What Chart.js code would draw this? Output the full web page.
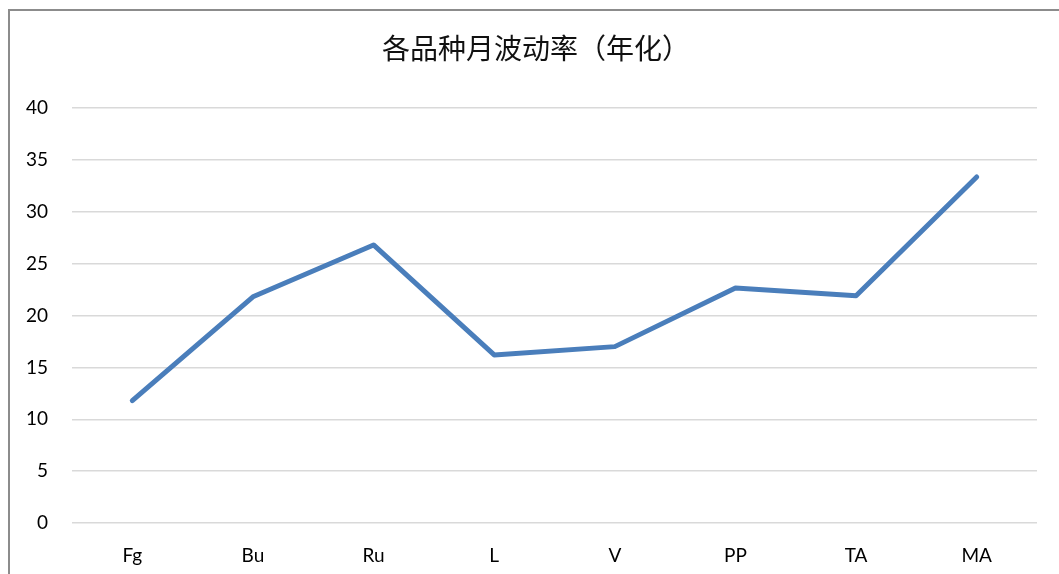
<!DOCTYPE html>
<html lang="zh">
<head>
    <meta charset="UTF-8">
    <title>各品种月波动率（年化）</title>
    <script src="https://cdn.jsdelivr.net/npm/chart.js"></script>
    <style>
        html, body {
            margin: 0;
            padding: 0;
            background: #fff;
        }
        #wrap {
            width: 1059px;
            height: 574px;
        }
    </style>
</head>
<body>
    <div id="wrap"><canvas id="chart"></canvas></div>
    <script>
        // données
        const chartTitle = '各品种月波动率（年化）';
        const categories = ['Fg', 'Bu', 'Ru', 'L', 'V', 'PP', 'TA', 'MA'];
        const volatility = [11.8, 21.8, 26.8, 16.2, 17.0, 22.65, 21.9, 33.35];
        const yTicks = [0, 5, 10, 15, 20, 25, 30, 35, 40];

        // cadre gris en haut et à gauche + titre
        const framePlugin = {
            id: 'frame',
            beforeDraw(chart) {
                const ctx = chart.ctx;
                ctx.save();
                ctx.fillStyle = '#fff';
                ctx.fillRect(0, 0, chart.width, chart.height);
                ctx.strokeStyle = '#8c8c8c';
                ctx.lineWidth = 2;
                ctx.beginPath();
                ctx.moveTo(9, chart.height);
                ctx.lineTo(9, 10);
                ctx.lineTo(chart.width, 10);
                ctx.stroke();

                ctx.fillStyle = '#111';
                ctx.font = '28px "Noto Sans CJK SC"';
                ctx.textAlign = 'center';
                ctx.textBaseline = 'middle';
                ctx.fillText(chartTitle, 536, 48);
                ctx.restore();
            }
        };

        const ctx = document.getElementById('chart').getContext('2d');
        new Chart(ctx, {
            type: 'line',
            data: {
                labels: categories,
                datasets: [{
                    label: '月波动率',
                    data: volatility,
                    borderColor: '#4a7ebb',
                    borderWidth: 5,
                    borderCapStyle: 'round',
                    borderJoinStyle: 'round',
                    pointRadius: 0,
                    pointHoverRadius: 0,
                    tension: 0,
                    fill: false
                }]
            },
            options: {
                responsive: true,
                maintainAspectRatio: false,
                animation: false,
                layout: {
                    padding: { left: 0, right: 22, top: 108, bottom: 0 }
                },
                plugins: {
                    legend: { display: false },
                    tooltip: { enabled: false },
                    title: { display: false }
                },
                scales: {
                    x: {
                        offset: true,
                        grid: { display: false, drawTicks: false },
                        border: { display: false },
                        ticks: {
                            color: '#000',
                            padding: 21,
                            font: { family: 'Lato', size: 19 }
                        },
                        afterFit(scale) { scale.height = 51; }
                    },
                    y: {
                        min: 0,
                        max: 40,
                        afterBuildTicks(scale) {
                            scale.ticks = yTicks.map(v => ({ value: v }));
                        },
                        grid: { color: '#d9d9d9', lineWidth: 1.5, drawTicks: false },
                        border: { display: false },
                        ticks: {
                            color: '#000',
                            padding: 24,
                            font: { family: 'Lato', size: 19 }
                        },
                        afterFit(scale) { scale.width = 72; }
                    }
                }
            },
            plugins: [framePlugin]
        });
    </script>
</body>
</html>
